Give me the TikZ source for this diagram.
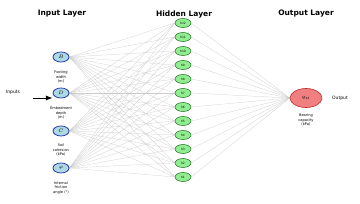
\documentclass[tikz,border=0pt]{standalone}
\usepackage{fontspec}
\setmainfont{DejaVu Sans}
\usetikzlibrary{shapes.geometric,backgrounds,arrows.meta}
\definecolor{inpfill}{RGB}{173,216,230}
\definecolor{inpdraw}{RGB}{40,60,170}
\definecolor{hidfill}{RGB}{144,238,144}
\definecolor{hiddraw}{RGB}{30,110,30}
\definecolor{outfill}{RGB}{240,128,128}
\definecolor{outdraw}{RGB}{190,40,40}
\begin{document}
\begin{tikzpicture}[x=1pt,y=1pt,
  inp/.style={ellipse,draw=inpdraw,line width=0.8pt,fill=inpfill,minimum width=16pt,minimum height=10pt,inner sep=0pt,font=\fontsize{4}{4}\selectfont},
  hid/.style={ellipse,draw=hiddraw,line width=0.5pt,fill=hidfill,minimum width=16pt,minimum height=9pt,inner sep=0pt,font=\fontsize{3}{3}\selectfont},
  outn/.style={ellipse,draw=outdraw,line width=0.6pt,fill=outfill,minimum width=32pt,minimum height=19pt,inner sep=0pt,font=\fontsize{4.5}{5}\selectfont},
  lab/.style={align=center,font=\fontsize{3.6}{4.2}\selectfont},
  ttl/.style={font=\fontsize{7.5}{8}\selectfont\bfseries},
  conn/.style={draw=gray!40,line width=0.25pt}
]
\useasboundingbox (0,0) rectangle (360,204);
\node[ttl] (t1) at (62,190) {Input Layer};
\node[ttl] (t2) at (184,190) {Hidden Layer};
\node[ttl] (t3) at (306,190) {Output Layer};
\foreach \i in {1,...,12}{
  \node[hid] (h\i) at (183,{204-177+(\i-1)*14}) {h\i};
}
\node[inp] (B) at (61,147) {$B$};
\node[inp] (D) at (61,111) {$D$};
\node[inp] (C) at (61,73) {$C$};
\node[inp] (P) at (61,36) {$\varphi$};
\node[outn] (O) at (306,106) {$q_u$};
\begin{scope}[on background layer]
\foreach \n in {B,D,C,P}{
  \foreach \i in {1,...,12}{
    \draw[conn] (\n.east) -- (h\i.west);
  }
}
\foreach \i in {1,...,12}{
  \draw[conn] (h\i.east) -- (O.west);
}
\end{scope}
\node[lab] (lB) at (61,127) {Footing\\width\\(m)};
\node[lab] (lD) at (61,91) {Embedment\\depth\\(m)};
\node[lab] (lC) at (61,54) {Soil\\cohesion\\(kPa)};
\node[lab] (lP) at (61,16) {Internal\\friction\\angle (°)};
\node[lab] (lO) at (306,84) {Bearing\\capacity\\(kPa)};
\node[font=\fontsize{4.5}{5}\selectfont] (inl) at (13,112) {Inputs};
\node[font=\fontsize{4.5}{5}\selectfont] (outl) at (340,106) {Output};
\coordinate (a0) at (33,106);
\draw[-{Latex},line width=0.8pt] (a0) -- ([yshift=-5pt]D.west);
\end{tikzpicture}
\end{document}
